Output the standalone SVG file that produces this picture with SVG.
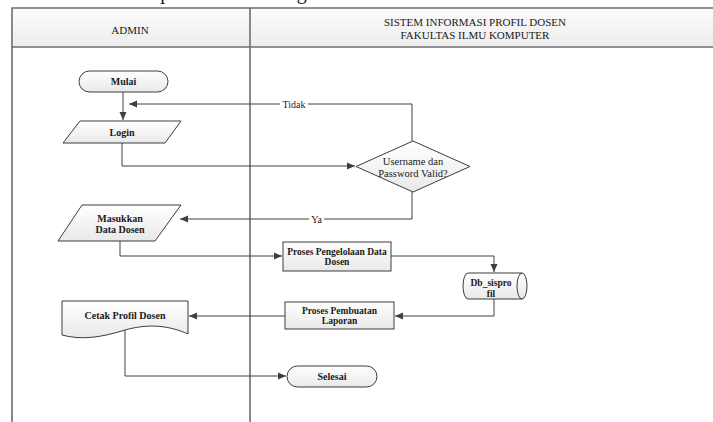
<svg xmlns="http://www.w3.org/2000/svg" width="713" height="422" viewBox="0 0 713 422">
  <defs>
    <linearGradient id="shapeFill" x1="0" y1="0" x2="0" y2="1">
      <stop offset="0" stop-color="#ffffff"/>
      <stop offset="1" stop-color="#e9e9e9"/>
    </linearGradient>
    <linearGradient id="headFill" x1="0" y1="0" x2="0" y2="1">
      <stop offset="0" stop-color="#fbfbfb"/>
      <stop offset="1" stop-color="#ededed"/>
    </linearGradient>
    <marker id="arrow" markerUnits="userSpaceOnUse" markerWidth="9" markerHeight="8" refX="8" refY="4" orient="auto">
      <path d="M0,0.5 L8,4 L0,7.5 Z" fill="#404040"/>
    </marker>
  </defs>
  <style>
    text { font-family: "Liberation Serif", "Times New Roman", serif; fill: #1a1a1a; }
    .lane { fill: none; stroke: #6e6e6e; stroke-width: 1.6; }
    .head { fill: url(#headFill); stroke: none; }
    .hd { font-size: 11px; text-anchor: middle; }
    .shape { fill: url(#shapeFill); stroke: #3c3c3c; stroke-width: 1; }
    .lbl { font-size: 10px; text-anchor: middle; font-weight: bold; }
    .lblr { font-size: 10.5px; text-anchor: middle; }
    .sm { font-size: 9.5px; text-anchor: middle; font-weight: bold; }
    .conn { fill: none; stroke: #404040; stroke-width: 1; }
    .tag { font-size: 10px; text-anchor: middle; }
    .tagbg { fill: #ffffff; }
  </style>

  <rect width="713" height="422" fill="#ffffff"/>

  <!-- running text line above the chart, cut by the page edge -->
  <text x="18" y="-1" font-size="20">Flowchart sistem profil dosen sebagai berikut.</text>

  <!-- swimlanes -->
  <g id="lanes">
    <rect class="head" x="12" y="8" width="710" height="39"/>
    <path class="lane" d="M12,430 V8 H720 M12,47 H720 M250,8 V430"/>
    <text class="hd" x="130" y="34">ADMIN</text>
    <text class="hd" x="475" y="26">SISTEM INFORMASI PROFIL DOSEN</text>
    <text class="hd" x="475" y="39">FAKULTAS ILMU KOMPUTER</text>
  </g>

  <!-- connectors -->
  <g id="connectors">
    <path class="conn" d="M123,92 V120" marker-end="url(#arrow)"/>
    <path class="conn" d="M412,141 V104 H129" marker-end="url(#arrow)"/>
    <path class="conn" d="M122,143 V166 H355" marker-end="url(#arrow)"/>
    <path class="conn" d="M412,192 V219 H180" marker-end="url(#arrow)"/>
    <path class="conn" d="M120,241 V256 H282" marker-end="url(#arrow)"/>
    <path class="conn" d="M391,256 H494 V272" marker-end="url(#arrow)"/>
    <path class="conn" d="M494,299 V316 H395" marker-end="url(#arrow)"/>
    <path class="conn" d="M285,316 H189" marker-end="url(#arrow)"/>
    <path class="conn" d="M125,330 V376 H286" marker-end="url(#arrow)"/>
    <rect class="tagbg" x="280" y="98" width="28" height="12"/>
    <text class="tag" x="294" y="107.5">Tidak</text>
    <rect class="tagbg" x="309" y="213" width="15" height="12"/>
    <text class="tag" x="316.5" y="222.5">Ya</text>
  </g>

  <g id="mulai">
    <rect class="shape" x="79" y="71" width="89" height="21" rx="10.5"/>
    <text class="lbl" x="123.5" y="85">Mulai</text>
  </g>

  <g id="login">
    <polygon class="shape" points="80,121 181,121 165,143 63,143"/>
    <text class="lbl" x="122" y="136">Login</text>
  </g>

  <g id="validasi">
    <polygon class="shape" points="413,141 470,166.5 413,192 356,166.5"/>
    <text class="lblr" x="413" y="165">Username dan</text>
    <text class="lblr" x="413" y="177">Password Valid?</text>
  </g>

  <g id="masukkan-data">
    <polygon class="shape" points="82,205 181,205 155,241 58,241"/>
    <text class="lbl" x="120" y="222">Masukkan</text>
    <text class="lbl" x="120" y="233">Data Dosen</text>
  </g>

  <g id="proses-pengelolaan">
    <rect class="shape" x="283" y="242" width="108" height="29"/>
    <text class="sm" x="337" y="255">Proses Pengelolaan Data</text>
    <text class="sm" x="337" y="265">Dosen</text>
  </g>

  <g id="db-sisprofil">
    <path class="shape" d="M468,273 H522 A5,13 0 0 1 522,299 H468 A5,13 0 0 1 468,273 Z"/>
    <path class="conn" d="M522,273 A5,13 0 0 0 522,299"/>
    <text class="sm" x="491" y="286">Db_sispro</text>
    <text class="sm" x="491" y="297">fil</text>
  </g>

  <g id="proses-pembuatan">
    <rect class="shape" x="285" y="302" width="109" height="27"/>
    <text class="sm" x="339.5" y="314">Proses Pembuatan</text>
    <text class="sm" x="339.5" y="324">Laporan</text>
  </g>

  <g id="cetak-profil">
    <path class="shape" d="M62,301 H188 V334 C170,326 150,323 125,330 C100,338 80,340 62,335 Z"/>
    <text class="lbl" x="125" y="319">Cetak Profil Dosen</text>
  </g>

  <g id="selesai">
    <rect class="shape" x="287" y="366" width="90" height="21" rx="10.5"/>
    <text class="lbl" x="332" y="380">Selesai</text>
  </g>
</svg>
